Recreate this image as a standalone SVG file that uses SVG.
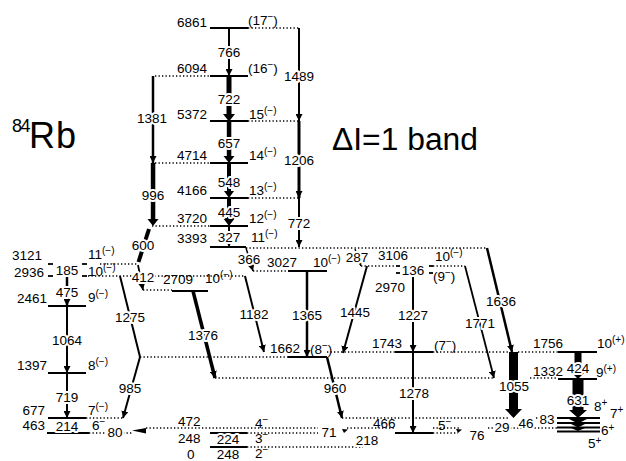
<svg xmlns="http://www.w3.org/2000/svg" width="626" height="461" viewBox="0 0 626 461">
<defs>
<style>
text{font-family:"Liberation Sans",Arial,sans-serif;font-size:13.5px;fill:#000}
.l{stroke:#000;stroke-width:1.8;fill:none}
.d{stroke:#000;stroke-width:1.3;stroke-dasharray:1.3 2.2;fill:none}
.t{stroke:#000;fill:none}
.h{stroke:#fff;stroke-width:4;stroke-linejoin:round;paint-order:stroke;text-anchor:middle}
.e{text-anchor:end}
.s{font-size:10px}
</style>
<marker id="a" markerUnits="userSpaceOnUse" markerWidth="8" markerHeight="7" refX="7" refY="3.5" orient="auto"><path d="M0,0 L7,3.5 L0,7z"/></marker>
</defs>
<rect width="626" height="461" fill="#fff"/>

<g id="title">
<text x="12" y="148"><tspan x="12" y="132" style="font-size:18px;letter-spacing:-1.5px">84</tspan><tspan x="29" y="148" style="font-size:36px;letter-spacing:1px">Rb</tspan></text>
<text x="332" y="150" style="font-size:31px" textLength="146" lengthAdjust="spacingAndGlyphs">ΔI=1 band</text>
</g>

<!-- levels -->
<g id="lv6861"><line class="l" x1="210" y1="28" x2="248" y2="28"/><line class="d" x1="248" y1="28" x2="299" y2="28"/><text class="e" x="207" y="27">6861</text><text x="248" y="25">(17<tspan class="s" dy="-5">−</tspan><tspan dy="5">)</tspan></text></g>
<g id="lv6094"><line class="l" x1="210" y1="76" x2="248" y2="76"/><line class="d" x1="155" y1="76" x2="210" y2="76"/><text class="e" x="207" y="73">6094</text><text x="248" y="73">(16<tspan class="s" dy="-5">−</tspan><tspan dy="5">)</tspan></text></g>
<g id="lv5372"><line class="l" x1="210" y1="121" x2="248" y2="121"/><line class="d" x1="248" y1="121" x2="299" y2="121"/><text class="e" x="207" y="119">5372</text><text x="249" y="119">15<tspan class="s" dy="-5">(−)</tspan></text></g>
<g id="lv4714"><line class="l" x1="210" y1="163" x2="248" y2="163"/><line class="d" x1="155" y1="163" x2="210" y2="163"/><text class="e" x="207" y="160">4714</text><text x="249" y="160">14<tspan class="s" dy="-5">(−)</tspan></text></g>
<g id="lv4166"><line class="l" x1="210" y1="198" x2="248" y2="198"/><line class="d" x1="248" y1="198" x2="299" y2="198"/><text class="e" x="207" y="195">4166</text><text x="249" y="195">13<tspan class="s" dy="-5">(−)</tspan></text></g>
<g id="lv3720"><line class="l" x1="210" y1="226" x2="248" y2="226"/><line class="d" x1="152" y1="226" x2="210" y2="226"/><text class="e" x="207" y="223">3720</text><text x="249" y="223">12<tspan class="s" dy="-5">(−)</tspan></text></g>
<g id="lv3393"><line class="l" x1="210" y1="247" x2="246" y2="247"/><line class="d" x1="246" y1="248" x2="487" y2="248"/><text class="e" x="207" y="243">3393</text><text x="251" y="242">11<tspan class="s" dy="-5">(−)</tspan></text></g>
<g id="lv3121"><line class="l" x1="48" y1="264" x2="53" y2="264"/><line class="l" x1="82" y1="264" x2="87" y2="264"/><line class="d" x1="100" y1="264" x2="137" y2="264"/><text class="e" x="42" y="260">3121</text><text x="88" y="259">11<tspan class="s" dy="-5">(−)</tspan></text></g>
<g id="lv2936"><line class="l" x1="48" y1="276" x2="53" y2="276"/><line class="l" x1="82" y1="276" x2="87" y2="276"/><line class="d" x1="88" y1="276" x2="245" y2="276"/><text class="e" x="44" y="277">2936</text><text x="88" y="276">10<tspan class="s" dy="-5">(−)</tspan></text></g>
<g id="lv2709"><line class="l" x1="172" y1="291" x2="208" y2="291"/><line class="d" x1="143" y1="290" x2="172" y2="290"/><text x="163" y="284">2709</text><text x="205" y="283">10<tspan class="s" dy="-5">(−)</tspan></text></g>
<g id="lv3027"><line class="l" x1="288" y1="271" x2="327" y2="271"/><line class="d" x1="253" y1="271" x2="288" y2="271"/><text x="267" y="267">3027</text><text x="313" y="267">10<tspan class="s" dy="-5">(−)</tspan></text></g>
<g id="lv3106"><line class="d" x1="361" y1="266" x2="396" y2="266"/><line class="l" x1="396" y1="266" x2="400" y2="266"/><line class="l" x1="429" y1="266" x2="433" y2="266"/><line class="d" x1="433" y1="266" x2="465" y2="266"/><text x="378" y="260">3106</text><text x="435" y="261">10<tspan class="s" dy="-5">(−)</tspan></text></g>
<g id="lv2970"><line class="l" x1="396" y1="273" x2="400" y2="273"/><line class="l" x1="429" y1="273" x2="433" y2="273"/><text x="375" y="292">2970</text><text x="433" y="281">(9<tspan class="s" dy="-5">−</tspan><tspan dy="5">)</tspan></text></g>
<g id="lv2461"><line class="l" x1="48" y1="306" x2="86" y2="306"/><text class="e" x="47" y="303">2461</text><text x="88" y="302">9<tspan class="s" dy="-5">(−)</tspan></text></g>
<g id="lv1397"><line class="l" x1="48" y1="373" x2="86" y2="373"/><text class="e" x="47" y="370">1397</text><text x="88" y="370">8<tspan class="s" dy="-5">(−)</tspan></text></g>
<g id="lv677"><line class="l" x1="48" y1="418" x2="86" y2="418"/><line class="d" x1="86" y1="418" x2="123" y2="418"/><text class="e" x="45" y="415">677</text><text x="88" y="415">7<tspan class="s" dy="-5">(−)</tspan></text></g>
<g id="lv463"><line class="l" x1="47" y1="433" x2="89" y2="433" stroke-width="2.6"/><line class="d" x1="89" y1="433" x2="106" y2="433"/><line class="d" x1="123" y1="433" x2="133" y2="433"/><text class="e" x="45" y="430">463</text><text x="92" y="430">6<tspan class="s" dy="-5">−</tspan></text></g>
<g id="lv1662"><line class="l" x1="288" y1="357" x2="327" y2="357"/><line class="d" x1="140" y1="357" x2="288" y2="357"/><text x="270" y="353">1662</text><text x="310" y="354">(8<tspan class="s" dy="-5">−</tspan><tspan dy="5">)</tspan></text></g>
<g id="lv1743"><line class="l" x1="395" y1="352" x2="433" y2="352"/><line class="d" x1="327" y1="352" x2="395" y2="352"/><line class="d" x1="433" y1="352" x2="509" y2="352"/><line class="d" x1="518" y1="352" x2="558" y2="352"/><text x="372" y="348">1743</text><text x="434" y="350">(7<tspan class="s" dy="-5">−</tspan><tspan dy="5">)</tspan></text></g>
<g id="lv1756"><line class="l" x1="558" y1="352" x2="597" y2="352"/><text x="533" y="348">1756</text><text x="597" y="348">10<tspan class="s" dy="-5">(+)</tspan></text></g>
<g id="lv1332"><line class="l" x1="558" y1="379" x2="597" y2="379"/><line class="d" x1="215" y1="378" x2="494" y2="378"/><line class="d" x1="530" y1="378" x2="558" y2="378"/><text x="533" y="376">1332</text><text x="596" y="377">9<tspan class="s" dy="-5">(+)</tspan></text></g>
<g id="lv543"><line class="d" x1="342" y1="418" x2="509" y2="418"/><line class="d" x1="536" y1="418" x2="557" y2="418"/></g>
<g id="lv472"><line class="d" x1="146" y1="428" x2="318" y2="428"/><text x="178" y="426">472</text><text x="255" y="428">4<tspan class="s" dy="-5">−</tspan></text></g>
<g id="lv248"><line class="l" x1="210" y1="433" x2="247" y2="433"/><line class="d" x1="247" y1="433" x2="318" y2="433"/><text x="178" y="443">248</text><text x="255" y="443">3<tspan class="s" dy="-5">−</tspan></text></g>
<g id="lv0"><line class="l" x1="210" y1="447" x2="247" y2="447"/><line class="d" x1="247" y1="447" x2="363" y2="447"/><text x="187" y="459">0</text><text x="255" y="458">2<tspan class="s" dy="-5">−</tspan></text></g>
<g id="lv466"><line class="l" x1="395" y1="433" x2="433" y2="433" stroke-width="3.6"/><line class="d" x1="347" y1="428" x2="395" y2="428"/><line class="d" x1="433" y1="428" x2="460" y2="428"/><line class="d" x1="433" y1="433" x2="458" y2="433"/><line class="d" x1="488" y1="428" x2="500" y2="428"/><text x="373" y="428">466</text><text x="438" y="430">5<tspan class="s" dy="-5">−</tspan></text></g>
<g id="lvplus">
<line class="l" x1="557" y1="418" x2="600" y2="418" stroke-width="1.4"/>
<line class="l" x1="557" y1="423" x2="600" y2="423" stroke-width="1.4"/>
<line class="l" x1="557" y1="427.5" x2="600" y2="427.5" stroke-width="3"/>
<line class="l" x1="557" y1="431.5" x2="600" y2="431.5" stroke-width="4"/>
<line class="d" x1="510" y1="428" x2="557" y2="428"/>
<text x="594" y="411">8<tspan class="s" dy="-5">+</tspan></text>
<text x="610" y="418">7<tspan class="s" dy="-5">+</tspan></text>
<text x="601" y="435">6<tspan class="s" dy="-4">+</tspan></text>
<text x="588" y="448">5<tspan class="s" dy="-4">+</tspan></text>
</g>

<!-- transitions -->
<g id="connectors">
<line class="t" x1="229" y1="28" x2="229" y2="76" stroke-width="2" marker-end="url(#a)"/>
<rect x="226.5" y="76" width="5" height="39"/><polygon points="223,114 235,114 229,121.5"/>
<rect x="226.8" y="121" width="4.5" height="36"/><polygon points="223.5,156 234.5,156 229,163"/>
<rect x="227" y="163" width="4" height="29"/><polygon points="224,191 234,191 229,198"/>
<rect x="227" y="198" width="4" height="21"/><polygon points="223,218 235,218 229,226"/>
<line class="t" x1="229" y1="226" x2="229" y2="247" stroke-width="2" marker-end="url(#a)"/>
<line class="t" x1="153" y1="76" x2="153" y2="163" stroke-width="2.5" marker-end="url(#a)"/>
<rect x="150.8" y="163" width="4.5" height="57"/><polygon points="147.5,219 158.5,219 153,226"/>
<line class="t" x1="149" y1="229" x2="138.5" y2="262" stroke-width="4"/>
<line class="t" x1="138" y1="265" x2="143" y2="290" stroke-width="1.8" marker-end="url(#a)"/>
<line class="t" x1="299" y1="28" x2="299" y2="121" stroke-width="2" marker-end="url(#a)"/>
<line class="t" x1="299" y1="121" x2="299" y2="198" stroke-width="3" marker-end="url(#a)"/>
<line class="t" x1="299" y1="198" x2="299" y2="247" stroke-width="2" marker-end="url(#a)"/>
<line class="t" x1="67" y1="277" x2="67" y2="306" stroke-width="2.5" marker-end="url(#a)"/>
<line class="t" x1="67" y1="306" x2="67" y2="373" stroke-width="2" marker-end="url(#a)"/>
<line class="t" x1="67" y1="373" x2="67" y2="418" stroke-width="2" marker-end="url(#a)"/>
<line class="t" x1="120" y1="276" x2="140" y2="357" stroke-width="2"/>
<line class="t" x1="140" y1="357" x2="123" y2="418" stroke-width="2" marker-end="url(#a)"/>
<line class="t" x1="193" y1="291" x2="215" y2="378" stroke-width="3.5" marker-end="url(#a)"/>
<line class="t" x1="245" y1="276" x2="264" y2="352" stroke-width="2" marker-end="url(#a)"/>
<line class="t" x1="246" y1="248" x2="253" y2="271" stroke-width="1.5" marker-end="url(#a)"/>
<line class="t" x1="307" y1="271" x2="307" y2="357" stroke-width="2.5" marker-end="url(#a)"/>
<line class="t" x1="355" y1="249" x2="361" y2="266" stroke-width="1.3" marker-end="url(#a)"/>
<line class="t" x1="367" y1="266" x2="343" y2="353" stroke-width="2" marker-end="url(#a)"/>
<line class="t" x1="413" y1="276" x2="413" y2="352" stroke-width="2" marker-end="url(#a)"/>
<line class="t" x1="413" y1="352" x2="413" y2="433" stroke-width="2" marker-end="url(#a)"/>
<line class="t" x1="465" y1="266" x2="494" y2="378" stroke-width="1.8" marker-end="url(#a)"/>
<line class="t" x1="487" y1="248" x2="512" y2="352" stroke-width="2.5" marker-end="url(#a)"/>
<line class="t" x1="327" y1="357" x2="342" y2="418" stroke-width="2.5" marker-end="url(#a)"/>
<rect x="509" y="352" width="9" height="58"/><polygon points="505,409 522,409 513.5,418"/>
<rect x="574.5" y="352" width="7" height="21"/><polygon points="571,372 585,372 578,379"/>
<rect x="572.5" y="379" width="11" height="32"/><polygon points="569,410 587,410 578,418"/>
<polygon points="569,419 587,419 578,423.5"/>
<polygon points="570,423.5 586,423.5 578,427.5"/>
<polygon points="571,428 585,428 578,431"/>
<polygon points="132,430.5 146,428 146,433.5"/>
<polygon points="342,429 348,429.5 344,433"/>
<polygon points="456,429 462,429.5 458,433"/>
<text class="h" x="229" y="57">766</text>
<text class="h" x="229" y="104">722</text>
<text class="h" x="229" y="148">657</text>
<text class="h" x="229" y="187">548</text>
<text class="h" x="229" y="217">445</text>
<text class="h" x="229" y="242">327</text>
<text class="h" x="152" y="123">1381</text>
<text class="h" x="153" y="200">996</text>
<text class="h" x="143" y="250">600</text>
<text class="h" x="299" y="81">1489</text>
<text class="h" x="299" y="165">1206</text>
<text class="h" x="299" y="228">772</text>
<text class="h" x="67" y="275">185</text>
<text class="h" x="67" y="297">475</text>
<text class="h" x="67" y="345">1064</text>
<text class="h" x="67" y="402">719</text>
<text class="h" x="67" y="431">214</text>
<text class="h" x="143" y="282">412</text>
<text class="h" x="130" y="322">1275</text>
<text class="h" x="130" y="393">985</text>
<text class="h" x="203" y="340">1376</text>
<text class="h" x="254" y="319">1182</text>
<text class="h" x="249" y="264">366</text>
<text class="h" x="357" y="262">287</text>
<text class="h" x="307" y="320">1365</text>
<text class="h" x="355" y="317">1445</text>
<text class="h" x="413" y="275">136</text>
<text class="h" x="413" y="320">1227</text>
<text class="h" x="414" y="398">1278</text>
<text class="h" x="480" y="328">1771</text>
<text class="h" x="501" y="306">1636</text>
<text class="h" x="335" y="393">960</text>
<text class="h" x="514" y="391">1055</text>
<text class="h" x="578" y="373">424</text>
<text class="h" x="578" y="405">631</text>
<text class="h" x="115" y="437">80</text>
<text class="h" x="329" y="437">71</text>
<text class="h" x="367" y="445">218</text>
<text class="h" x="477" y="440">76</text>
<text class="h" x="502" y="432">29</text>
<text class="h" x="526" y="428">46</text>
<text class="h" x="547" y="424">83</text>
<text class="h" x="228" y="444">224</text>
<text class="h" x="228" y="459">248</text>
</g>
</svg>
